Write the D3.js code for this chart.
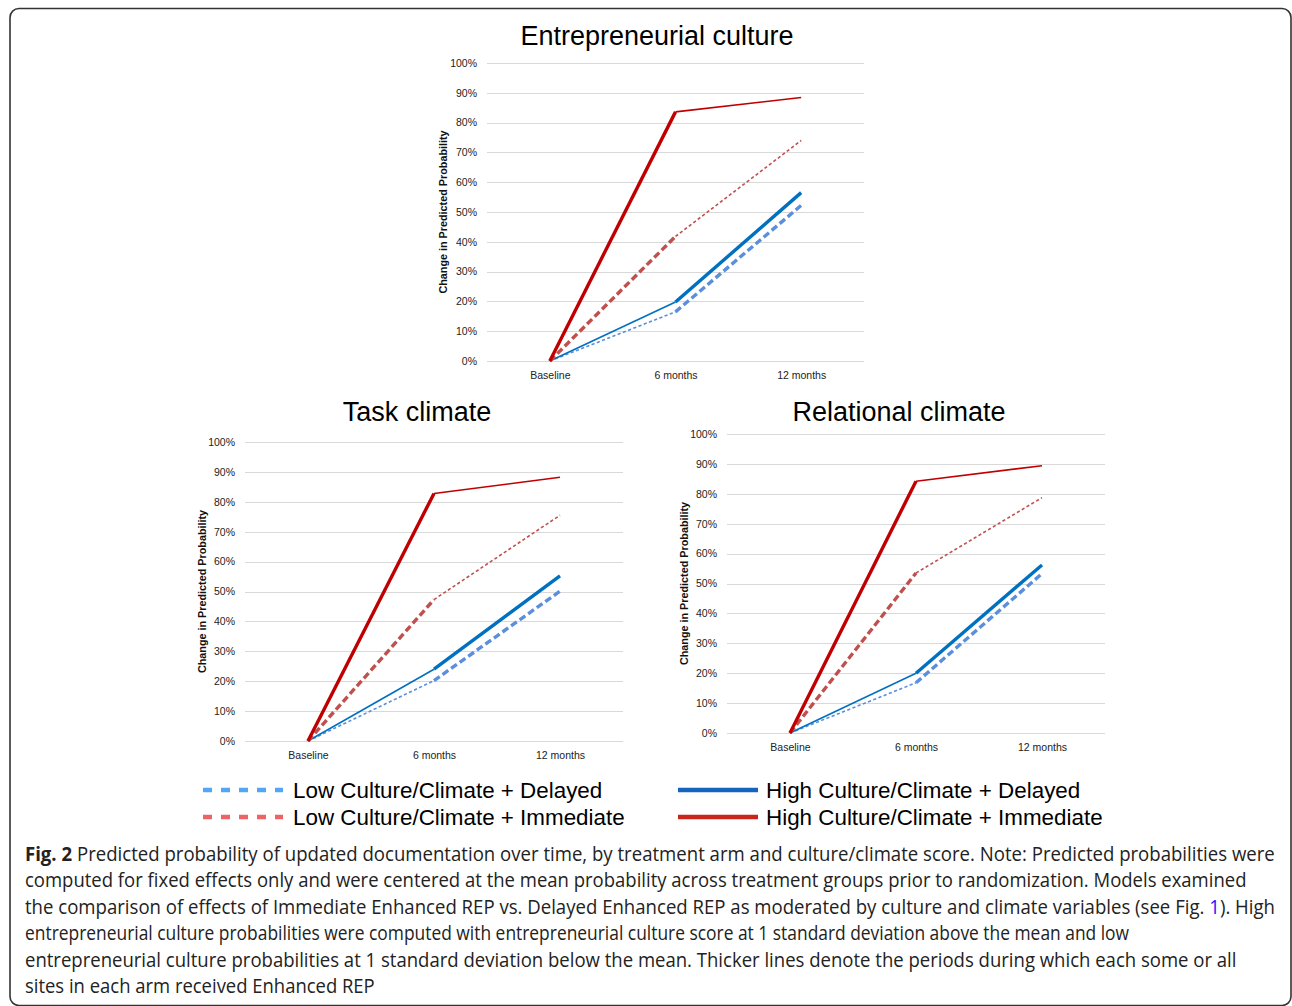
<!DOCTYPE html>
<html><head><meta charset="utf-8">
<script src="https://cdn.jsdelivr.net/npm/d3@7"></script>
<style>html,body{margin:0;padding:0;background:#fff;}svg{display:block;}</style>
</head><body>
<svg id="c" width="1292" height="1006"></svg>
<script>
// ---- data ----
const categories = ["Baseline", "6 months", "12 months"];
const yTicks = [0, 10, 20, 30, 40, 50, 60, 70, 80, 90, 100];
const panelTitles = ["Entrepreneurial culture", "Task climate", "Relational climate"];
const yAxisTitle = "Change in Predicted Probability";

// values in percent: [Baseline, 6 months, 12 months]
const entHighImmediate = [0, 83.6, 88.4];
const entLowImmediate  = [0, 41.8, 74.0];
const entHighDelayed   = [0, 19.8, 56.5];
const entLowDelayed    = [0, 16.5, 52.2];

const taskHighImmediate = [0, 82.8, 88.2];
const taskLowImmediate  = [0, 47.3, 75.5];
const taskHighDelayed   = [0, 24.0, 55.2];
const taskLowDelayed    = [0, 20.2, 50.1];

const relHighImmediate = [0, 84.2, 89.4];
const relLowImmediate  = [0, 53.5, 78.7];
const relHighDelayed   = [0, 20.0, 56.2];
const relLowDelayed    = [0, 16.8, 53.3];

const legendLabels = ["Low Culture/Climate + Delayed", "Low Culture/Climate + Immediate",
                      "High Culture/Climate + Delayed", "High Culture/Climate + Immediate"];

const captionLines = [
  [{t:"Fig. 2", b:true}, {t:" Predicted probability of updated documentation over time, by treatment arm and culture/climate score. Note: Predicted probabilities were"}],
  [{t:"computed for fixed effects only and were centered at the mean probability across treatment groups prior to randomization. Models examined"}],
  [{t:"the comparison of effects of Immediate Enhanced REP vs. Delayed Enhanced REP as moderated by culture and climate variables (see Fig. "}, {t:"1", link:true}, {t:"). High"}],
  [{t:"entrepreneurial culture probabilities were computed with entrepreneurial culture score at 1 standard deviation above the mean and low"}],
  [{t:"entrepreneurial culture probabilities at 1 standard deviation below the mean. Thicker lines denote the periods during which each some or all"}],
  [{t:"sites in each arm received Enhanced REP"}]
];

// ---- styles / layout ----
const FONT = "'Liberation Sans', Arial, sans-serif";
const svg = d3.select("#c");

svg.append("rect").attr("x", 10).attr("y", 8.5).attr("width", 1281).attr("height", 997)
  .attr("rx", 9).attr("fill", "none").attr("stroke", "#333").attr("stroke-width", 1.6);

const panels = [
  {title: panelTitles[0], x0: 487, x1: 864, yTop: 63, yBot: 361, tx: 657, ty: 45, lx: 447,
   series: [entLowDelayed, entHighDelayed, entLowImmediate, entHighImmediate]},
  {title: panelTitles[1], x0: 245, x1: 623, yTop: 442, yBot: 741, tx: 417, ty: 421, lx: 206,
   series: [taskLowDelayed, taskHighDelayed, taskLowImmediate, taskHighImmediate]},
  {title: panelTitles[2], x0: 727, x1: 1105, yTop: 434, yBot: 733, tx: 899, ty: 421, lx: 688,
   series: [relLowDelayed, relHighDelayed, relLowImmediate, relHighImmediate]}
];

// order: lowDelayed, highDelayed, lowImmediate, highImmediate
const seriesStyle = [
  {color: "#5B8FDB", dashed: true,  immediate: false},
  {color: "#0070C0", dashed: false, immediate: false},
  {color: "#C0504D", dashed: true,  immediate: true},
  {color: "#C00000", dashed: false, immediate: true}
];

panels.forEach(p => {
  const g = svg.append("g");
  const x = d3.scalePoint().domain(categories).range([p.x0, p.x1]).padding(0.5);
  const y = d3.scaleLinear().domain([0, 100]).range([p.yBot, p.yTop]);

  g.append("text").attr("x", p.tx).attr("y", p.ty).attr("text-anchor", "middle")
    .attr("font-family", FONT).attr("font-size", 27).attr("fill", "#000").text(p.title);

  // gridlines
  g.append("g").selectAll("line").data(yTicks).join("line")
    .attr("x1", p.x0).attr("x2", p.x1)
    .attr("y1", d => Math.round(y(d)) + 0.5).attr("y2", d => Math.round(y(d)) + 0.5)
    .attr("stroke", "#d9d9d9").attr("stroke-width", 1.2);

  // y axis
  const ya = d3.axisLeft(y).tickValues(yTicks).tickFormat(d => d + "%").tickSize(0).tickPadding(10);
  const yg = g.append("g").attr("transform", `translate(${p.x0},0)`).call(ya);
  yg.select(".domain").remove();
  yg.selectAll("text").attr("font-family", FONT).attr("font-size", 10.5).attr("fill", "#222");

  // x axis
  const xa = d3.axisBottom(x).tickSize(0).tickPadding(10.5);
  const xg = g.append("g").attr("transform", `translate(0,${p.yBot})`).call(xa);
  xg.select(".domain").remove();
  xg.selectAll("text").attr("font-family", FONT).attr("font-size", 10.5).attr("fill", "#222");

  // y title
  g.append("text").attr("transform", `translate(${p.lx},${(p.yTop + p.yBot) / 2}) rotate(-90)`)
    .attr("text-anchor", "middle").attr("font-family", FONT).attr("font-size", 10.8)
    .attr("font-weight", "bold").attr("fill", "#111").text(yAxisTitle);

  const line = d3.line().x(d => x(d.c)).y(d => y(d.v));
  p.series.forEach((vals, si) => {
    const st = seriesStyle[si];
    for (let k = 0; k < categories.length - 1; k++) {
      const seg = [{c: categories[k], v: vals[k]}, {c: categories[k + 1], v: vals[k + 1]}];
      const thick = st.immediate ? (k === 0) : (k === 1);
      g.append("path").attr("d", line(seg)).attr("fill", "none")
        .attr("stroke", st.color)
        .attr("stroke-width", thick ? 3.4 : 1.6)
        .attr("stroke-dasharray", st.dashed ? (thick ? "7,3.5" : "3.2,2.4") : null)
        .attr("stroke-linecap", "butt");
    }
  });
});

// legend
const legendItems = [
  {x: 203, y: 790, color: "#52A6F5", dashed: true},
  {x: 203, y: 817, color: "#EE6363", dashed: true},
  {x: 678, y: 790, color: "#1565C0", dashed: false},
  {x: 678, y: 817, color: "#C8261A", dashed: false}
];
legendItems.forEach((it, i) => {
  svg.append("line").attr("x1", it.x).attr("x2", it.x + 80).attr("y1", it.y).attr("y2", it.y)
    .attr("stroke", it.color).attr("stroke-width", 4.5)
    .attr("stroke-dasharray", it.dashed ? "9,9" : null);
  svg.append("text").attr("x", it.x + (it.dashed ? 90 : 88)).attr("y", it.y + 8).attr("font-family", FONT)
    .attr("font-size", 22.4).attr("fill", "#000").text(legendLabels[i]);
});

// caption: each line is a group scaled horizontally to the reference width
const capWidths = [1250, 1222, 1250, 1105, 1212, 350];
captionLines.forEach((parts, i) => {
  const g = svg.append("g");
  let cx = 0;
  parts.forEach(pt => {
    const t = g.append("text").attr("x", cx).attr("y", 0)
      .attr("font-family", "'Open Sans', 'Noto Sans', sans-serif").attr("font-size", 19.5)
      .attr("font-weight", pt.b ? "bold" : "normal")
      .attr("fill", pt.link ? "#1a1aff" : "#222")
      .style("white-space", "pre").text(pt.t);
    cx += t.node().getComputedTextLength();
  });
  const sx = capWidths[i] / cx;
  g.attr("transform", `translate(25,${861 + i * 26.4}) scale(${sx},1)`);
});
</script>
</body></html>
